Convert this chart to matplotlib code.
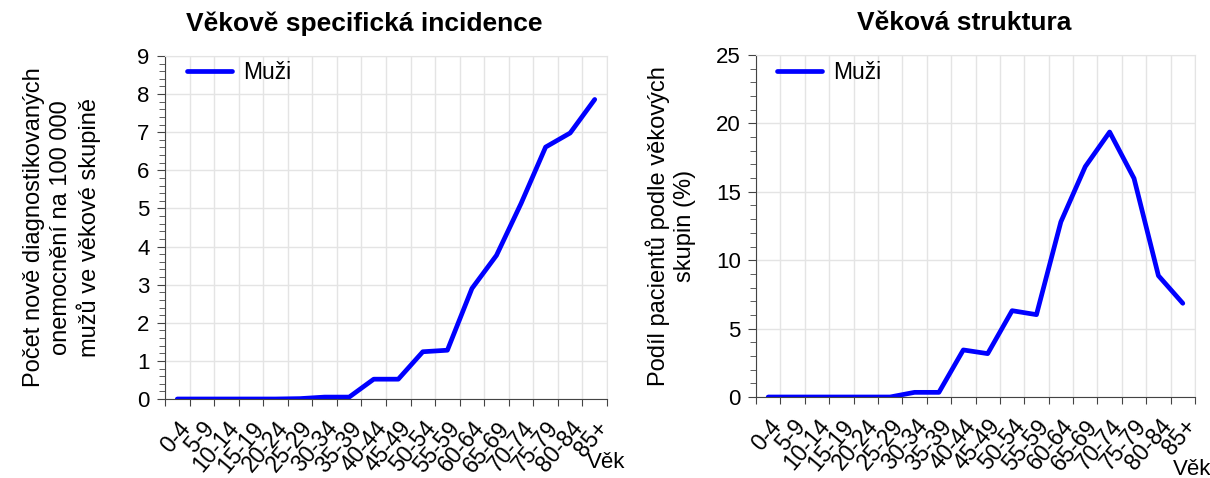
import numpy as np
import matplotlib.pyplot as plt
from matplotlib.ticker import MultipleLocator

plt.rcParams['font.family'] = ['Liberation Sans', 'DejaVu Sans']

# Data
age_groups = ['0-4', '5-9', '10-14', '15-19', '20-24', '25-29', '30-34', '35-39',
              '40-44', '45-49', '50-54', '55-59', '60-64', '65-69', '70-74',
              '75-79', '80-84', '85+']
incidence = [0, 0, 0, 0, 0, 0.01, 0.05, 0.05, 0.52, 0.52, 1.24, 1.28,
             2.90, 3.77, 5.13, 6.61, 6.98, 7.86]
structure = [0, 0, 0, 0, 0, 0, 0.34, 0.34, 3.44, 3.17, 6.31, 6.02,
             12.8, 16.84, 19.37, 15.98, 8.87, 6.85]

fig = plt.figure(figsize=(12.1, 4.78), dpi=100)
W, H = 1210, 478
ax1 = fig.add_axes([165 / W, 1 - 399 / H, 442 / W, 343 / H])
ax2 = fig.add_axes([756 / W, 1 - 397 / H, 439 / W, 342 / H])


def style(ax, values, ymax, ymajor, yminor, title, title_x, ylabel, lpad,
          leg_anchor, vek_x, vek_y):
    n = len(age_groups)
    x = np.arange(n)
    ax.plot(x, values, color='#0000FF', lw=3.4, label='Muži', solid_capstyle='round')
    ax.set_xlim(-0.5, n - 0.5)
    ax.set_ylim(0, ymax)
    ax.set_xticks(np.arange(n + 1) - 0.5)
    ax.set_xticklabels([])
    ax.set_xticks(x, minor=True)
    ax.set_xticklabels(age_groups, minor=True, rotation=50, ha='right',
                       rotation_mode='anchor', fontsize=16.5)
    ax.tick_params(axis='x', which='minor', length=0, pad=13)
    ax.tick_params(axis='x', which='major', length=5, direction='out', color='#444444')
    ax.yaxis.set_major_locator(MultipleLocator(ymajor))
    ax.yaxis.set_minor_locator(MultipleLocator(yminor))
    ax.tick_params(axis='y', which='major', length=6, labelsize=16, color='#444444', pad=5)
    ax.tick_params(axis='y', which='minor', length=4, color='#444444')
    ax.grid(True, which='major', axis='both', color='#e4e4e4', lw=1)
    ax.set_axisbelow(True)
    for s in ['top', 'right']:
        ax.spines[s].set_color('#e4e4e4')
    for s in ['left', 'bottom']:
        ax.spines[s].set_color('#444444')
    ax.set_title(title, fontsize=19, fontweight='bold', pad=18, x=title_x)
    ax.set_ylabel(ylabel, fontsize=17, labelpad=lpad, linespacing=1.25)
    ax.legend(loc='upper left', bbox_to_anchor=leg_anchor, frameon=False,
              fontsize=16.5, handlelength=1.95, borderaxespad=0, handletextpad=0.5)
    ax.text(vek_x, vek_y, 'Věk', transform=ax.transAxes, fontsize=16,
            ha='left', va='center')


style(ax1, incidence, 9, 1, 0.2, 'Věkově specifická incidence', 0.45,
      'Počet nově diagnostikovaných\nonemocnění na 100 000\nmužů ve věkové skupině',
      26, (0.029, 1.012), 0.955, -0.185)
style(ax2, structure, 25, 5, 1, 'Věková struktura', 0.474,
      'Podíl pacientů podle věkových\nskupin (%)', 14, (0.027, 1.009), 0.95, -0.213)

fig.savefig('out.png', dpi=100)
